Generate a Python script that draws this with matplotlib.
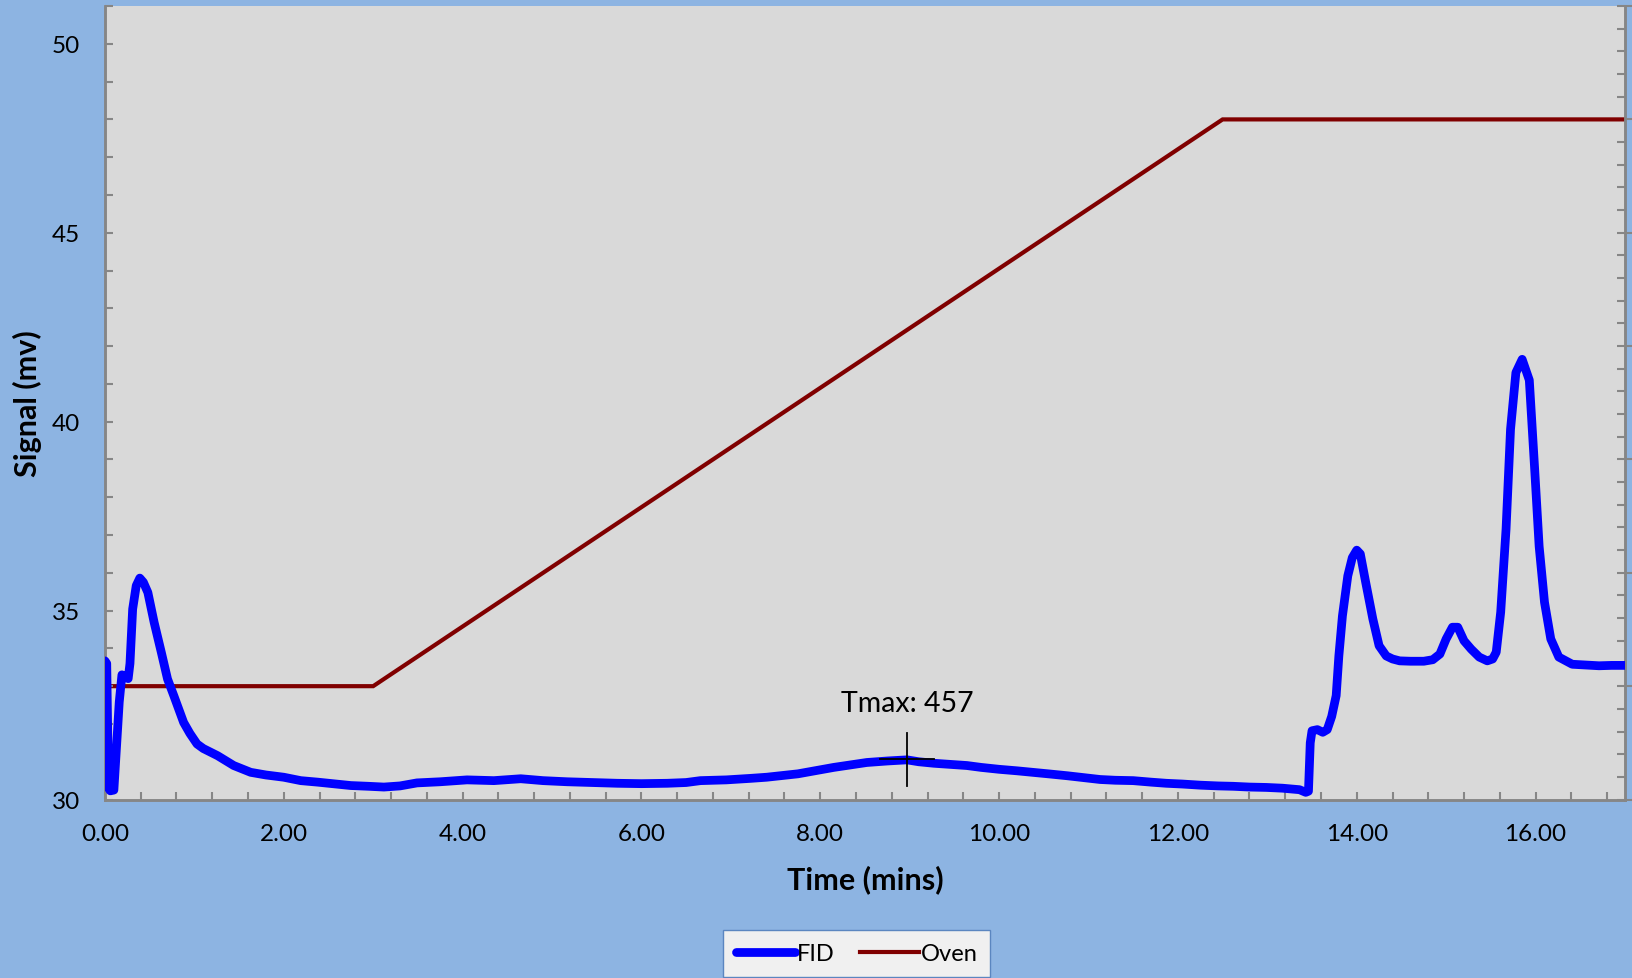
import matplotlib
matplotlib.use("Agg")
import matplotlib.pyplot as plt
from matplotlib.ticker import MultipleLocator, FormatStrFormatter

plt.rcParams['font.family'] = ['Lato', 'DejaVu Sans']

# FID trace (time in mins, signal in mV)
fid_time = [0.00, 0.02, 0.04, 0.06, 0.10, 0.13, 0.16, 0.19, 0.22, 0.26,
            0.28, 0.31, 0.35, 0.39, 0.43, 0.48, 0.55, 0.63, 0.70, 0.77,
            0.88, 0.95, 1.03, 1.10, 1.26, 1.44, 1.63, 1.80, 2.00, 2.19,
            2.38, 2.55, 2.75, 2.95, 3.12, 3.30, 3.49, 3.75, 4.05, 4.35,
            4.65, 4.90, 5.17, 5.45, 5.73, 6.00, 6.29, 6.50, 6.66, 6.95,
            7.22, 7.40, 7.75, 8.15, 8.52, 8.75, 8.89, 8.97, 9.10, 9.27,
            9.45, 9.64, 9.80, 10.00, 10.20, 10.38, 10.55, 10.76, 10.95, 11.13,
            11.30, 11.50, 11.70, 11.87, 12.05, 12.25, 12.45, 12.62, 12.80, 12.99,
            13.17, 13.36, 13.43, 13.46, 13.48, 13.50, 13.56, 13.62, 13.67, 13.72,
            13.77, 13.80, 13.84, 13.90, 13.95, 14.00, 14.04, 14.10, 14.18, 14.25,
            14.33, 14.40, 14.48, 14.60, 14.75, 14.85, 14.93, 15.00, 15.07, 15.13,
            15.20, 15.28, 15.37, 15.46, 15.52, 15.56, 15.61, 15.67, 15.72, 15.78,
            15.85, 15.93, 15.99, 16.04, 16.10, 16.17, 16.26, 16.33, 16.41, 16.55,
            16.71, 16.85, 17.00]
fid_signal = [33.67, 33.60, 30.30, 30.23, 30.25, 31.40, 32.58, 33.30, 33.25, 33.20,
              33.60, 35.04, 35.66, 35.86, 35.75, 35.48, 34.69, 33.90, 33.19, 32.75,
              32.04, 31.75, 31.47, 31.35, 31.16, 30.90, 30.72, 30.65, 30.59, 30.50,
              30.46, 30.42, 30.37, 30.35, 30.33, 30.36, 30.44, 30.47, 30.52, 30.50,
              30.55, 30.50, 30.47, 30.45, 30.43, 30.42, 30.43, 30.45, 30.50, 30.52,
              30.56, 30.59, 30.68, 30.85, 30.98, 31.02, 31.04, 31.05, 31.00, 30.96,
              30.93, 30.90, 30.85, 30.80, 30.76, 30.72, 30.68, 30.63, 30.58, 30.53,
              30.51, 30.50, 30.46, 30.43, 30.41, 30.38, 30.36, 30.35, 30.33, 30.32,
              30.30, 30.26, 30.19, 30.22, 31.50, 31.82, 31.85, 31.78, 31.85, 32.20,
              32.75, 33.80, 34.86, 35.92, 36.40, 36.60, 36.50, 35.75, 34.78, 34.07,
              33.80, 33.72, 33.67, 33.66, 33.66, 33.70, 33.85, 34.25, 34.56, 34.56,
              34.20, 33.98, 33.77, 33.67, 33.72, 33.90, 34.96, 37.16, 39.80, 41.30,
              41.65, 41.10, 38.74, 36.70, 35.22, 34.25, 33.77, 33.68, 33.58, 33.56,
              33.54, 33.55, 33.55]

# Oven temperature program (secondary axis, unlabelled)
oven_time = [0.0, 3.0, 12.5, 17.0]
oven_temp = [100, 100, 600, 600]

tmax_time = 8.97
tmax_signal = 31.07
tmax_label = "Tmax: 457"

bg = '#8DB4E2'
spine_col = '#868686'

fig = plt.figure(figsize=(16.32, 9.79), dpi=100, facecolor=bg)
ax = fig.add_axes([0.0643, 0.1823, 0.9314, 0.8105])
ax2 = ax.twinx()

ax2.plot(oven_time, oven_temp, color='#800000', lw=3.0, solid_joinstyle='miter', label='Oven', zorder=2)
ax.plot(fid_time, fid_signal, color='#0000FF', lw=6.3, solid_joinstyle='round',
        solid_capstyle='round', label='FID', zorder=3)

# FID axis drawn on top, grey patch comes from the twin axis underneath
ax.set_zorder(ax2.get_zorder() + 1)
ax.patch.set_visible(False)
ax2.patch.set_visible(True)
ax2.patch.set_facecolor('#D9D9D9')

# Tmax marker
ax.plot([tmax_time, tmax_time], [30.36, 31.76], color='black', lw=1.3, zorder=4)
ax.plot([tmax_time - 0.3, tmax_time + 0.3], [tmax_signal, tmax_signal], color='black', lw=1.3, zorder=4)
ax.text(tmax_time, 32.55, tmax_label, ha='center', va='center', fontsize=20.5, zorder=5)

ax.set_xlim(0, 17)
ax.set_ylim(30, 51)
ax2.set_ylim(0, 700)

ax.xaxis.set_major_locator(MultipleLocator(2))
ax.xaxis.set_minor_locator(MultipleLocator(0.4))
ax.xaxis.set_major_formatter(FormatStrFormatter('%.2f'))
ax.yaxis.set_major_locator(MultipleLocator(5))
ax.yaxis.set_minor_locator(MultipleLocator(1))
ax2.yaxis.set_major_locator(MultipleLocator(100))
ax2.yaxis.set_minor_locator(MultipleLocator(20))

ax.tick_params(axis='x', which='both', direction='in', length=6, width=1.5, color=spine_col,
               labelsize=17.5, pad=17)
ax.tick_params(axis='y', which='both', direction='in', length=6, width=1.5, color=spine_col,
               labelsize=17.5, pad=18)
ax2.tick_params(axis='y', which='major', direction='inout', length=12, width=1.5, color=spine_col,
                labelright=False)
ax2.tick_params(axis='y', which='minor', direction='in', length=6, width=1.5, color=spine_col)

for a in (ax, ax2):
    a.spines['top'].set_visible(False)
    for s in ('left', 'right', 'bottom'):
        a.spines[s].set_color(spine_col)
        a.spines[s].set_linewidth(1.8)

ax.set_xlabel('Time (mins)', fontsize=22, fontweight='bold', va='center')
ax.set_ylabel('Signal (mv)', fontsize=22, fontweight='bold', va='center')
ax.xaxis.set_label_coords(0.5, -0.0996)
ax.yaxis.set_label_coords(-0.0507, 0.5)

h1, l1 = ax.get_legend_handles_labels()
h2, l2 = ax2.get_legend_handles_labels()
leg = fig.legend(h1 + h2, l1 + l2, loc='upper center', bbox_to_anchor=(0.525, 0.049),
                 ncol=2, fontsize=17, frameon=True, fancybox=False, handlelength=2.5,
                 handletextpad=0.05, columnspacing=1.1, borderpad=0.55, borderaxespad=0)
leg.get_frame().set_facecolor('#F0F0F0')
leg.get_frame().set_edgecolor('#5B86C0')
leg.get_frame().set_alpha(1)

fig.savefig('out.png', dpi=100, facecolor=bg)
